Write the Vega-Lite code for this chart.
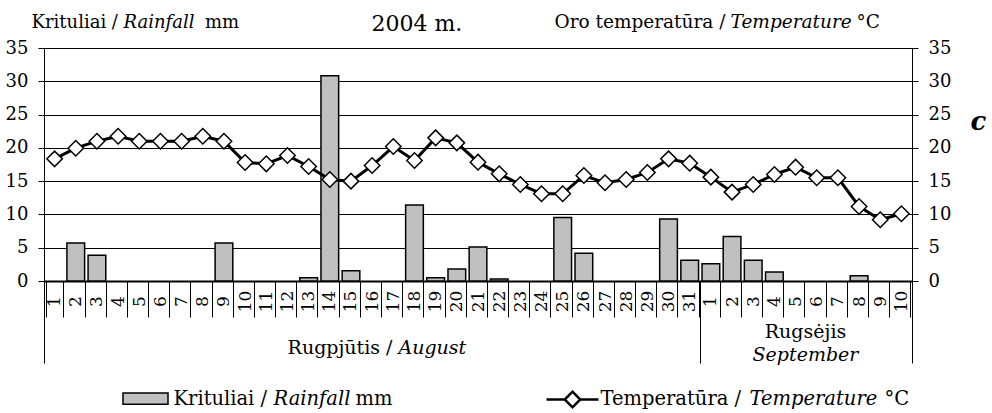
{
  "$schema": "https://vega.github.io/schema/vega-lite/v6.json",
  "width": 868,
  "height": 233,
  "autosize": {"type": "none"},
  "padding": {"left": 44, "top": 48, "right": 80, "bottom": 132},
  "background": "white",
  "data": {"values": [
    {"i": 1, "rain": 0, "temp": 18.35},
    {"i": 2, "rain": 5.7, "temp": 19.95},
    {"i": 3, "rain": 3.85, "temp": 21.0},
    {"i": 4, "rain": 0, "temp": 21.75},
    {"i": 5, "rain": 0, "temp": 21.0},
    {"i": 6, "rain": 0, "temp": 21.0},
    {"i": 7, "rain": 0, "temp": 21.0},
    {"i": 8, "rain": 0, "temp": 21.75},
    {"i": 9, "rain": 5.7, "temp": 21.0},
    {"i": 10, "rain": 0, "temp": 17.8},
    {"i": 11, "rain": 0, "temp": 17.6},
    {"i": 12, "rain": 0, "temp": 18.85},
    {"i": 13, "rain": 0.5, "temp": 17.2},
    {"i": 14, "rain": 30.85, "temp": 15.25},
    {"i": 15, "rain": 1.55, "temp": 15.0},
    {"i": 16, "rain": 0, "temp": 17.35},
    {"i": 17, "rain": 0, "temp": 20.2},
    {"i": 18, "rain": 11.4, "temp": 18.1},
    {"i": 19, "rain": 0.5, "temp": 21.5},
    {"i": 20, "rain": 1.8, "temp": 20.75},
    {"i": 21, "rain": 5.1, "temp": 17.85},
    {"i": 22, "rain": 0.3, "temp": 16.1},
    {"i": 23, "rain": 0, "temp": 14.5},
    {"i": 24, "rain": 0, "temp": 13.1},
    {"i": 25, "rain": 9.55, "temp": 13.1},
    {"i": 26, "rain": 4.15, "temp": 15.85},
    {"i": 27, "rain": 0, "temp": 14.75},
    {"i": 28, "rain": 0, "temp": 15.25},
    {"i": 29, "rain": 0, "temp": 16.3},
    {"i": 30, "rain": 9.3, "temp": 18.35},
    {"i": 31, "rain": 3.1, "temp": 17.7},
    {"i": 32, "rain": 2.6, "temp": 15.6},
    {"i": 33, "rain": 6.7, "temp": 13.35},
    {"i": 34, "rain": 3.1, "temp": 14.5},
    {"i": 35, "rain": 1.35, "temp": 16.0},
    {"i": 36, "rain": 0, "temp": 17.1},
    {"i": 37, "rain": 0, "temp": 15.5},
    {"i": 38, "rain": 0, "temp": 15.5},
    {"i": 39, "rain": 0.8, "temp": 11.2},
    {"i": 40, "rain": 0, "temp": 9.2},
    {"i": 41, "rain": 0, "temp": 10.1}
  ]},
  "layer": [
    {
      "mark": {"type": "bar", "stroke": "black"},
      "encoding": {
        "x": {"field": "i", "type": "ordinal", "scale": {"paddingInner": 0.164, "paddingOuter": 0.082},
          "axis": {"orient": "bottom", "labelExpr": "datum.value > 31 ? datum.value - 31 : datum.value", "labelAngle": 270, "labelAlign": "center", "labelBaseline": "middle", "labelFontSize": 17, "labelPadding": -16, "labelOverlap": false, "tickBand": "extent", "tickSize": 36, "domainWidth": 2, "grid": false,
            "title": "Rugpjūtis /", "titleFontSize": 19, "titleX": 348, "titleY": 72, "titleAngle": 0, "titleAlign": "right", "titleBaseline": "alphabetic"}},
        "y": {"field": "rain", "type": "quantitative", "scale": {"domain": [0, 35], "nice": false},
          "axis": {"orient": "left", "values": [0, 5, 10, 15, 20, 25, 30, 35], "grid": true, "gridWidth": 1, "tickSize": 6, "labelPadding": 10, "labelFontSize": 18, "domainWidth": 1,
            "title": "Krituliai /", "titleFontSize": 18, "titleX": -13, "titleY": -21, "titleAngle": 0, "titleAlign": "left", "titleBaseline": "alphabetic"}},
        "strokeWidth": {"condition": {"test": "datum.rain == 0", "value": 0}, "value": 1.5},
        "fill": {"datum": "Krituliai", "scale": {"range": ["#c0c0c0"]},
          "legend": {"orient": "none", "legendX": 78, "legendY": 327, "title": null, "labelExpr": "''", "symbolType": "M-1,-0.25H1V0.25H-1Z", "symbolSize": 2025, "symbolStrokeColor": "black", "symbolStrokeWidth": 1.5, "padding": 0}}
      }
    },
    {
      "mark": {"type": "line", "strokeWidth": 3, "point": {"shape": "diamond", "filled": true, "fill": "white", "stroke": "black", "strokeWidth": 1.5, "size": 240, "opacity": 1}},
      "encoding": {
        "x": {"field": "i", "type": "ordinal",
          "axis": {"orient": "bottom", "values": [1, 32], "bandPosition": 0, "tickOffset": -1.8, "tickSize": 82, "labels": false, "domain": false, "grid": false,
            "title": "August", "titleFontSize": 19, "titleFontStyle": "italic", "titleX": 354, "titleY": 72, "titleAngle": 0, "titleAlign": "left", "titleBaseline": "alphabetic"}},
        "y": {"field": "temp", "type": "quantitative", "scale": {"domain": [0, 35], "nice": false},
          "axis": {"orient": "right", "values": [0, 5, 10, 15, 20, 25, 30, 35], "grid": false, "tickSize": 6, "labelPadding": 10, "labelFontSize": 18, "domainWidth": 1,
            "title": "Oro temperatūra /", "titleFontSize": 18.5, "titleX": -358, "titleY": -21, "titleAngle": 0, "titleAlign": "left", "titleBaseline": "alphabetic"}},
        "stroke": {"datum": "Temperatūra", "scale": {"range": ["black"]},
          "legend": {"orient": "none", "legendX": 501, "legendY": 324, "title": null, "labelExpr": "''", "symbolType": "M-1,0H-0.3M0.3,0H1M0,-0.3L0.3,0L0,0.3L-0.3,0Z", "symbolSize": 2704, "symbolStrokeWidth": 2.5, "symbolFillColor": "white", "padding": 0}}
      }
    },
    {
      "mark": {"type": "point", "opacity": 0},
      "encoding": {
        "x": {"field": "i", "type": "ordinal",
          "axis": {"orient": "bottom", "values": [41], "bandPosition": 1, "tickOffset": 1.8, "tickSize": 82, "labels": false, "domain": false, "grid": false,
            "title": "Rugsėjis", "titleFontSize": 19, "titleX": 761, "titleY": 56, "titleAngle": 0, "titleAlign": "center", "titleBaseline": "alphabetic"}},
        "y": {"field": "rain", "type": "quantitative",
          "axis": {"orient": "left", "labels": false, "ticks": false, "domain": false, "grid": false,
            "title": "Rainfall", "titleFontSize": 18, "titleFontStyle": "italic", "titleX": 79, "titleY": -21, "titleAngle": 0, "titleAlign": "left", "titleBaseline": "alphabetic"}}
      }
    },
    {
      "mark": {"type": "point", "opacity": 0},
      "encoding": {
        "x": {"field": "i", "type": "ordinal",
          "axis": {"orient": "bottom", "labels": false, "ticks": false, "domain": false, "grid": false,
            "title": "September", "titleFontSize": 19, "titleFontStyle": "italic", "titleX": 761, "titleY": 79, "titleAngle": 0, "titleAlign": "center", "titleBaseline": "alphabetic"}},
        "y": {"field": "rain", "type": "quantitative",
          "axis": {"orient": "left", "labels": false, "ticks": false, "domain": false, "grid": false,
            "title": "mm", "titleFontSize": 18, "titleX": 160.5, "titleY": -21, "titleAngle": 0, "titleAlign": "left", "titleBaseline": "alphabetic"}}
      }
    },
    {
      "mark": {"type": "point", "opacity": 0},
      "encoding": {
        "x": {"field": "i", "type": "ordinal",
          "axis": {"orient": "bottom", "labels": false, "ticks": false, "domain": false, "grid": false,
            "title": "Krituliai /", "titleFontSize": 19.5, "titleX": 129, "titleY": 123, "titleAngle": 0, "titleAlign": "left", "titleBaseline": "alphabetic"}},
        "y": {"field": "rain", "type": "quantitative",
          "axis": {"orient": "right", "labels": false, "ticks": false, "domain": false, "grid": false,
            "title": "Temperature", "titleFontSize": 18.5, "titleFontStyle": "italic", "titleX": -182, "titleY": -21, "titleAngle": 0, "titleAlign": "left", "titleBaseline": "alphabetic"}}
      }
    },
    {
      "mark": {"type": "point", "opacity": 0},
      "encoding": {
        "x": {"field": "i", "type": "ordinal",
          "axis": {"orient": "bottom", "labels": false, "ticks": false, "domain": false, "grid": false,
            "title": "Rainfall", "titleFontSize": 19.5, "titleFontStyle": "italic", "titleX": 229, "titleY": 123, "titleAngle": 0, "titleAlign": "left", "titleBaseline": "alphabetic"}},
        "y": {"field": "rain", "type": "quantitative",
          "axis": {"orient": "right", "labels": false, "ticks": false, "domain": false, "grid": false,
            "title": "°C", "titleFontSize": 18.5, "titleX": -56, "titleY": -21, "titleAngle": 0, "titleAlign": "left", "titleBaseline": "alphabetic"}}
      }
    },
    {
      "mark": {"type": "point", "opacity": 0},
      "encoding": {
        "x": {"field": "i", "type": "ordinal",
          "axis": {"orient": "bottom", "labels": false, "ticks": false, "domain": false, "grid": false,
            "title": "mm", "titleFontSize": 19.5, "titleX": 311, "titleY": 123, "titleAngle": 0, "titleAlign": "left", "titleBaseline": "alphabetic"}},
        "y": {"field": "rain", "type": "quantitative",
          "axis": {"orient": "right", "labels": false, "ticks": false, "domain": false, "grid": false,
            "title": "c", "titleFontStyle": "italic", "titleFontWeight": "bold", "titleFontSize": 26, "titleX": 58, "titleY": 81, "titleAngle": 0, "titleAlign": "left", "titleBaseline": "alphabetic"}}
      }
    },
    {
      "mark": {"type": "point", "opacity": 0},
      "encoding": {
        "x": {"field": "i", "type": "ordinal",
          "axis": {"orient": "bottom", "labels": false, "ticks": false, "domain": false, "grid": false,
            "title": "Temperatūra /", "titleFontSize": 19.5, "titleX": 556, "titleY": 123, "titleAngle": 0, "titleAlign": "left", "titleBaseline": "alphabetic"}},
        "y": {"field": "rain", "type": "quantitative",
          "axis": {"orient": "left", "labels": false, "ticks": false, "domain": false, "grid": false,
            "title": "2004 m.", "titleFontSize": 22, "titleX": 327, "titleY": -18, "titleAngle": 0, "titleAlign": "left", "titleBaseline": "alphabetic"}}
      }
    },
    {
      "mark": {"type": "point", "opacity": 0},
      "encoding": {
        "x": {"field": "i", "type": "ordinal",
          "axis": {"orient": "bottom", "labels": false, "ticks": false, "domain": false, "grid": false,
            "title": "Temperature", "titleFontSize": 19.5, "titleFontStyle": "italic", "titleX": 705, "titleY": 123, "titleAngle": 0, "titleAlign": "left", "titleBaseline": "alphabetic"}},
        "y": {"field": "rain", "type": "quantitative",
          "axis": {"orient": "left", "labels": false, "ticks": false, "domain": false, "grid": false,
            "title": "°C", "titleFontSize": 19.5, "titleX": 840, "titleY": 356, "titleAngle": 0, "titleAlign": "left", "titleBaseline": "alphabetic"}}
      }
    }
  ],
  "resolve": {"scale": {"y": "independent"}, "axis": {"x": "independent", "y": "independent"}},
  "config": {
    "font": "DejaVu Serif",
    "view": {"stroke": null},
    "axis": {"labelFont": "DejaVu Serif", "titleFont": "DejaVu Serif", "labelColor": "black", "titleColor": "black", "labelFontSize": 18, "titleFontSize": 18, "titleFontWeight": "normal", "tickColor": "black", "domainColor": "black", "gridColor": "black", "tickWidth": 1}
  }
}
